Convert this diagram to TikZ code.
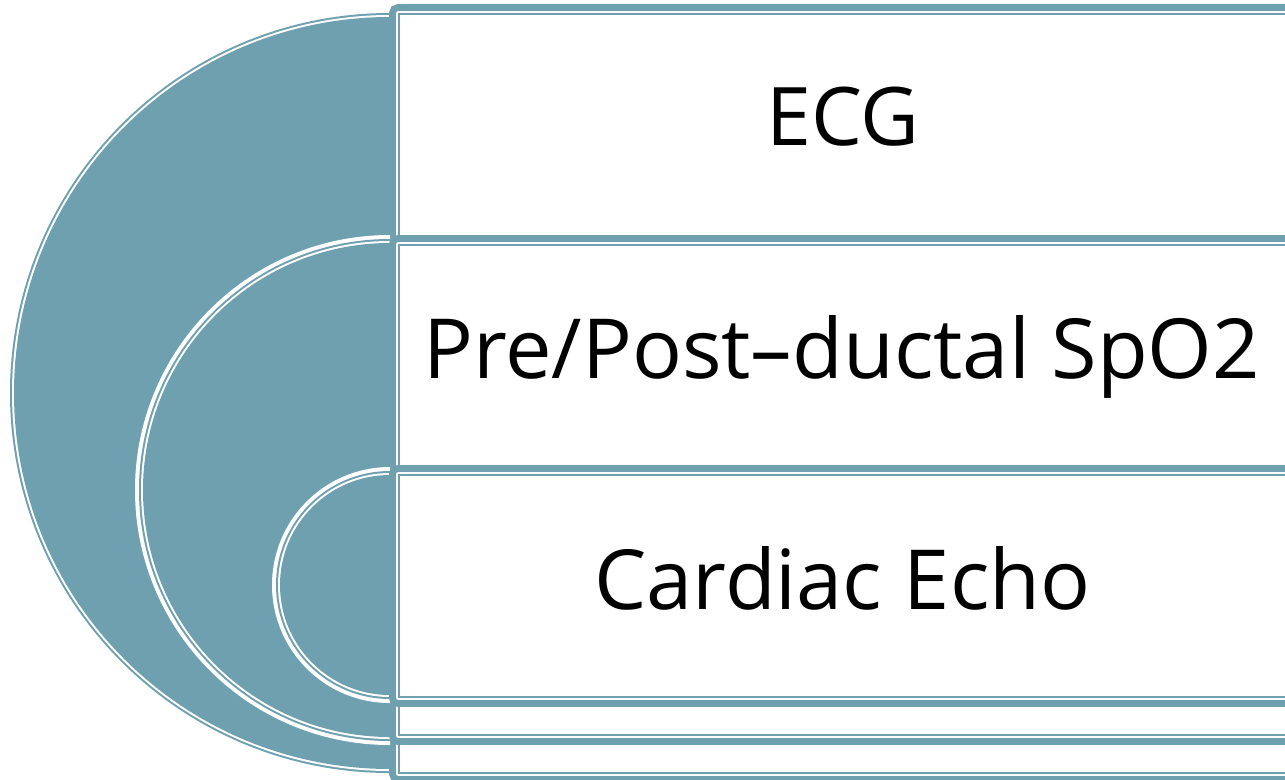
\documentclass[tikz,border=0pt]{standalone}
\usepackage{fontspec}
\setmainfont{Open Sans}
\definecolor{petrol}{RGB}{111,160,175}
\tikzset{levellabel/.style={anchor=base, inner sep=0pt, font=\fontsize{47.2}{56}\selectfont}}

% half disk on the left of a box: centre x, centre y, radius
\newcommand{\halfdisk}[3]{%
  \fill[white] (#1,#2) ++(0,#3+5) arc[start angle=90,end angle=270,radius=#3+5] -- cycle;
  \fill[petrol] (#1,#2) ++(0,#3+1) arc[start angle=90,end angle=270,radius=#3+1] -- cycle;
  \fill[white] (#1,#2) ++(0,#3-1) arc[start angle=90,end angle=270,radius=#3-1] -- cycle;
  \fill[petrol] (#1,#2) ++(0,#3-3) arc[start angle=90,end angle=270,radius=#3-3] -- cycle;
}
% box with double border: top, bottom
\newcommand{\levelbox}[2]{%
  \filldraw[fill=white, draw=petrol, line width=3.8pt, rounded corners=3pt] (392.5,-#1-3.5) rectangle (1320,-#2+3.5);
  \draw[petrol, line width=1.1pt] (399,-#1-10) rectangle (1320,-#2+10);
}

\begin{document}
\begin{tikzpicture}[x=0.02cm,y=0.02cm]
\useasboundingbox (0,0) rectangle (1285,-779);
\clip (0,0) rectangle (1285,-779);

\halfdisk{390}{-393}{379}
\levelbox{4}{783}
\halfdisk{390}{-490}{250}
\levelbox{235}{745}
\halfdisk{390}{-585}{113}
\levelbox{465}{707}

\node[levellabel, font=\fontsize{46}{55}\selectfont] (ecg) at (843,-145) {ECG};
\node[levellabel] (spo) at (841.5,-378) {Pre/Post–ductal SpO2};
\node[levellabel] (echo) at (842.5,-609) {Cardiac Echo};

\end{tikzpicture}
\end{document}
